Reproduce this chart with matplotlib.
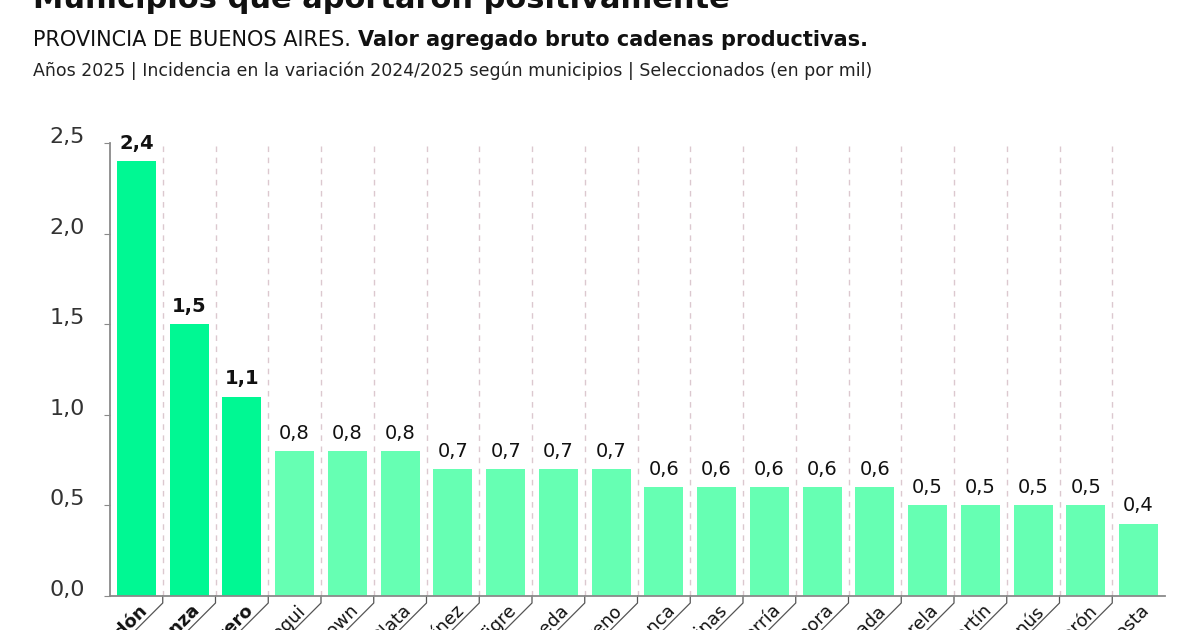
import matplotlib
matplotlib.use("Agg")
import matplotlib.pyplot as plt
from matplotlib.transforms import offset_copy

# data
municipios = ["Gral. Pueyrredón", "La Matanza", "Tres de Febrero", "Berazategui",
              "Alte. Brown", "La Plata", "Gral. Martínez", "Tigre", "Avellaneda",
              "Moreno", "Bahía Blanca", "Malvinas Argentinas", "Esteban Echeverría",
              "Lomas de Zamora", "Ensenada", "Florencio Varela", "Gral. San Martín",
              "Lanús", "Morón", "La Costa"]
valores = [2.4, 1.5, 1.1, 0.8, 0.8, 0.8, 0.7, 0.7, 0.7, 0.7,
           0.6, 0.6, 0.6, 0.6, 0.6, 0.5, 0.5, 0.5, 0.5, 0.4]
destacados = 3  # first three highlighted
yticks = [0.0, 0.5, 1.0, 1.5, 2.0, 2.5]

VERDE_FUERTE = "#00f893"
VERDE_SUAVE = "#66ffb3"
GRIS = "#8a8a8a"
NARROW = ["Liberation Sans Narrow", "DejaVu Sans"]

fig = plt.figure(figsize=(12, 6.3), dpi=100)
ax = fig.add_axes([110 / 1200, 34 / 630, 1055 / 1200, 453 / 630])

x = list(range(len(valores)))
colores = [VERDE_FUERTE if i < destacados else VERDE_SUAVE for i in x]
ax.bar(x, valores, width=0.74, color=colores, zorder=2)

ax.set_xlim(-0.5, len(valores) - 0.5)
ax.set_ylim(0, 2.5)

# dashed separators between bars
for b in range(len(valores) - 1):
    ax.axvline(b + 0.5, color="#dcc8cf", lw=1, ls=(0, (4, 4)), zorder=1)

# spines / ticks
for s in ["top", "right"]:
    ax.spines[s].set_visible(False)
for s in ["left", "bottom"]:
    ax.spines[s].set_color(GRIS)
    ax.spines[s].set_linewidth(1.3)
ax.set_xticks([])
ax.set_yticks(yticks)
ax.set_yticklabels([f"{v:.1f}".replace(".", ",") for v in yticks])
ax.tick_params(axis="y", length=4, color=GRIS, pad=14, labelsize=16, labelcolor="#333333")
for lab in ax.get_yticklabels():
    lab.set_transform(offset_copy(lab.get_transform(), fig=fig, x=0, y=8, units="dots"))

# value labels
for i, v in enumerate(valores):
    ax.annotate(f"{v:.1f}".replace(".", ","), (i, v), xytext=(0, 6),
                textcoords="offset points", ha="center", va="bottom",
                fontsize=14, fontweight="bold" if i < destacados else "normal",
                color="#111111")

# leader lines and rotated category labels
xt = ax.get_xaxis_transform()
px_x = 1 / 52.75  # one pixel in data units along x
px_y = 1 / 453    # one pixel in axes fraction along y
for b in range(len(valores) - 1):
    xb = b + 0.5
    ax.plot([xb, xb, xb - 45 * px_x], [0, -7 * px_y, -52 * px_y],
            transform=xt, color="#555555", lw=0.9, clip_on=False)
for i, nombre in enumerate(municipios):
    ax.text(i + 2 * px_x, -6 * px_y, nombre, transform=xt, rotation=45,
            rotation_mode="anchor", ha="right", va="top", fontsize=13,
            family=NARROW, fontweight="bold" if i < destacados else "normal",
            color="#111111")

# titles
fig.text(33 / 1200, 1 - 8 / 630, "Municipios que aportaron positivamente",
         fontsize=22, fontweight="bold", va="baseline", ha="left", color="#111111")
t1 = fig.text(33 / 1200, 1 - 46 / 630, "PROVINCIA DE BUENOS AIRES. ",
              fontsize=15, family=NARROW, va="baseline", ha="left", color="#111111")
ax.annotate("Valor agregado bruto cadenas productivas.", xy=(1, 0), xycoords=t1,
            xytext=(0, 0), textcoords="offset points", va="bottom", ha="left",
            fontsize=15, family=NARROW, fontweight="bold", color="#111111",
            annotation_clip=False)
fig.text(33 / 1200, 1 - 76 / 630,
         "Años 2025 | Incidencia en la variación 2024/2025 según municipios | Seleccionados (en por mil)",
         fontsize=12.5, family=NARROW, va="baseline", ha="left", color="#222222")

fig.savefig("out.png", dpi=100)
